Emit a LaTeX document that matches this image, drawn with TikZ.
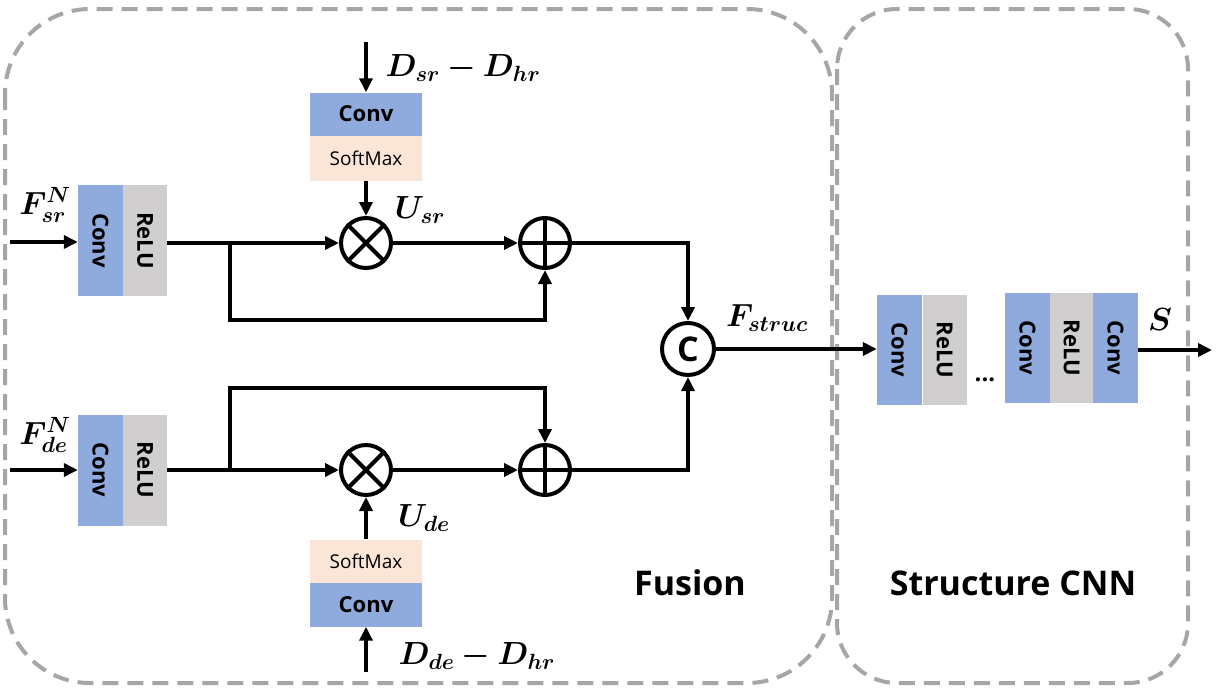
\documentclass[tikz,border=0pt]{standalone}
\usepackage{fix-cm}
\usepackage{amsmath,bm}
\usepackage{fontspec}
\setmainfont{Open Sans}
\usetikzlibrary{arrows.meta}
\definecolor{cblue}{HTML}{8FAADC}
\definecolor{cgray}{HTML}{D0CECE}
\definecolor{cpeach}{HTML}{FBE5D6}
\definecolor{cborder}{HTML}{A6A6A6}
\DeclareMathSizes{32}{32}{22}{16}
\begin{document}
\begin{tikzpicture}[x=1pt,y=-1pt,
  frame/.style={draw=cborder,line width=4pt,dash pattern=on 16pt off 9pt},
  box/.style={inner sep=0pt,font=\fontsize{22}{26}\selectfont\bfseries},
  vconv/.style={box,fill=cblue,minimum width=45pt,minimum height=111pt},
  vrelu/.style={box,fill=cgray,minimum width=44pt,minimum height=111pt},
  op/.style={circle,draw,line width=4pt,minimum size=50pt,inner sep=0pt},
  ln/.style={line width=4pt},
  ar/.style={line width=4pt,-{Triangle[length=14pt,width=13pt]}},
  lab/.style={font=\fontsize{32}{36}\selectfont}]
\useasboundingbox (0,0) rectangle (1228,689);
\draw[frame,rounded corners=85pt] (5,9) rectangle (832,683);
\draw[frame,rounded corners=60pt] (837,9) rectangle (1188,683);
\node[font=\fontsize{34}{40}\selectfont\bfseries] (fus) at (690,583) {Fusion};
\node[font=\fontsize{34}{40}\selectfont\bfseries] (scnn) at (1013,583) {Structure CNN};
% top branch
\node[vconv] (c1) at (100.5,240.5) {\rotatebox{-90}{Conv}};
\node[vrelu] (r1) at (145,240.5) {\rotatebox{-90}{ReLU}};
\node[box,fill=cblue,minimum width=112pt,minimum height=43pt] (tc) at (366,114) {Conv};
\node[box,fill=cpeach,minimum width=112pt,minimum height=45pt,font=\fontsize{19}{22}\selectfont] (ts) at (366,158) {SoftMax};
\coordinate (tin) at (366,42);
\draw[ar] (tin) -- (tc.north);
\node[lab,anchor=west] (dsr) at (382,68) {$\bm{D_{sr}-D_{hr}}$};
\node[op] (m1) at (366,243) {};
\draw[ln] (m1.north west)--(m1.south east) (m1.north east)--(m1.south west);
\node[op] (p1) at (545,243) {};
\draw[ln] (p1.north)--(p1.south) (p1.west)--(p1.east);
\draw[ar] (ts.south) -- (m1.north);
\node[lab] (usr) at (420,210) {$\bm{U_{sr}}$};
\coordinate (fin1) at (10,242);
\draw[ar] (fin1) -- (c1.west |- fin1);
\node[lab] (fsr) at (45,205) {$\bm{F^{N}_{sr}}$};
\coordinate (b1) at (230,243);
\draw[ar] (r1.east |- m1) -- (m1.west);
\draw[ar] (m1.east) -- (p1.west);
\draw[ar] (b1) -- (230,320) -- (545,320) -- (p1.south);
% bottom branch
\node[vconv] (c2) at (100.5,470) {\rotatebox{-90}{Conv}};
\node[vrelu] (r2) at (145,470) {\rotatebox{-90}{ReLU}};
\node[box,fill=cpeach,minimum width=112pt,minimum height=43pt,font=\fontsize{19}{22}\selectfont] (bs) at (366,561) {SoftMax};
\node[box,fill=cblue,minimum width=112pt,minimum height=44pt] (bc) at (366,604.5) {Conv};
\coordinate (bin) at (366,672);
\draw[ar] (bin) -- (bc.south);
\node[lab,anchor=west] (dde) at (395,656) {$\bm{D_{de}-D_{hr}}$};
\node[op] (m2) at (366,470) {};
\draw[ln] (m2.north west)--(m2.south east) (m2.north east)--(m2.south west);
\node[op] (p2) at (545,470) {};
\draw[ln] (p2.north)--(p2.south) (p2.west)--(p2.east);
\draw[ar] (bs.north) -- (m2.south);
\node[lab] (ude) at (424,518) {$\bm{U_{de}}$};
\coordinate (fin2) at (10,470);
\draw[ar] (fin2) -- (c2.west |- fin2);
\node[lab] (fde) at (45,435) {$\bm{F^{N}_{de}}$};
\coordinate (b2) at (230,470);
\draw[ar] (r2.east |- m2) -- (m2.west);
\draw[ar] (m2.east) -- (p2.west);
\draw[ar] (b2) -- (230,388) -- (545,388) -- (p2.north);
% concat
\node[circle,draw,line width=4pt,minimum size=52pt,inner sep=0pt,font=\fontsize{34}{40}\selectfont\bfseries] (cc) at (688,349) {C};
\draw[ar] (p1.east) -- (688,243) -- (cc.north);
\draw[ar] (p2.east) -- (688,470) -- (cc.south);
\node[lab] (fst) at (767,318) {$\bm{F_{struc}}$};
% structure CNN
\node[vconv,minimum height=110pt] (s1) at (899.5,350) {\rotatebox{-90}{Conv}};
\node[vrelu,minimum height=110pt] (s2) at (944.5,350) {\rotatebox{-90}{ReLU}};
\node[font=\fontsize{24}{28}\selectfont\bfseries] (dots) at (985,380) {...};
\node[vconv,minimum height=110pt] (s3) at (1027.5,348) {\rotatebox{-90}{Conv}};
\node[vrelu,minimum height=110pt] (s4) at (1071.5,348) {\rotatebox{-90}{ReLU}};
\node[vconv,minimum height=110pt] (s5) at (1115.5,348) {\rotatebox{-90}{Conv}};
\draw[ar] (cc.east) -- (s1.west |- cc);
\coordinate (out) at (1212,350);
\draw[ar] (s5.east |- out) -- (out);
\node[lab] (S) at (1160,320) {$\bm{S}$};
\end{tikzpicture}
\end{document}
